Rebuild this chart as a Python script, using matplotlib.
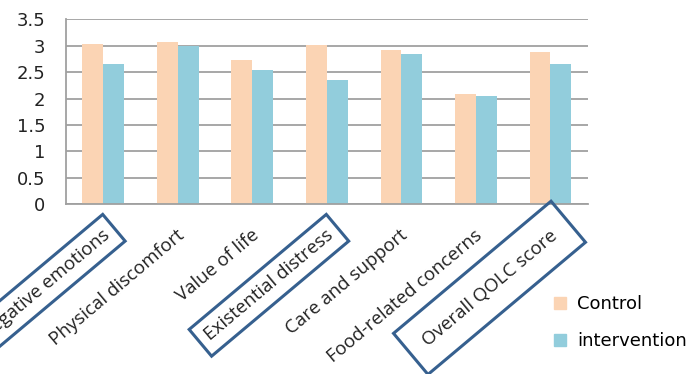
import numpy as np
import matplotlib
matplotlib.use('Agg')
import matplotlib.pyplot as plt
from matplotlib.patches import Patch


categories = ['Negative emotions', 'Physical discomfort', 'Value of life',
              'Existential distress', 'Care and support',
              'Food-related concerns', 'Overall QOLC score']
control = [3.04, 3.08, 2.73, 3.02, 2.92, 2.08, 2.89]
intervention = [2.65, 2.99, 2.55, 2.36, 2.84, 2.05, 2.65]
series_names = ['Control', 'intervention']
yticks = [0, 0.5, 1, 1.5, 2, 2.5, 3, 3.5]
yticklabels = ['0', '0.5', '1', '1.5', '2', '2.5', '3', '3.5']
boxed = {'Negative emotions': 0.45, 'Existential distress': 0.45,
         'Overall QOLC score': 0.95}

CONTROL_COLOR = '#FBD4B4'
INTERV_COLOR = '#92CDDC'
GRID_COLOR = '#A0A0A0'
BOX_COLOR = '#36608F'

fig = plt.figure(figsize=(6.98, 3.74), dpi=100)
ax = fig.add_axes([0.0946, 0.4545, 0.7474, 0.4935])

x = np.arange(len(categories))
w = 0.28
ax.bar(x - w / 2, control, w, color=CONTROL_COLOR, zorder=2)
ax.bar(x + w / 2, intervention, w, color=INTERV_COLOR, zorder=2)

ax.set_xlim(-0.5, len(categories) - 0.5)
ax.set_ylim(0, 3.5)
ax.set_yticks(yticks)
ax.set_yticklabels(yticklabels, fontsize=13, color='#222222')
ax.tick_params(axis='y', length=0, pad=15)
ax.set_xticks([])
ax.yaxis.grid(True, color=GRID_COLOR, linewidth=1.3, zorder=0)
ax.set_axisbelow(True)
for side in ['top', 'right']:
    ax.spines[side].set_visible(False)
for side in ['left', 'bottom']:
    ax.spines[side].set_color(GRID_COLOR)
    ax.spines[side].set_linewidth(1.3)

# slanted category labels, some of them framed
for i, name in enumerate(categories):
    bbox = None
    if name in boxed:
        bbox = dict(boxstyle='square,pad=%.2f' % boxed[name], fc='none',
                    ec=BOX_COLOR, lw=2.2)
    ax.annotate(name, xy=(i, 0), xycoords=('data', 'axes fraction'),
                xytext=(3, -21), textcoords='offset points',
                ha='right', va='center', rotation=40,
                rotation_mode='anchor', fontsize=13.5, family='Open Sans',
                color='#222222', bbox=bbox, annotation_clip=False,
                zorder=5)

handles = [Patch(color=CONTROL_COLOR), Patch(color=INTERV_COLOR)]
fig.legend(handles, series_names, loc='upper left',
           bbox_to_anchor=(0.783, 0.23), frameon=False, fontsize=13,
           handlelength=0.7, handleheight=0.7, handletextpad=0.6,
           labelspacing=1.05, borderaxespad=0)

plt.savefig('out.png', dpi=100)
